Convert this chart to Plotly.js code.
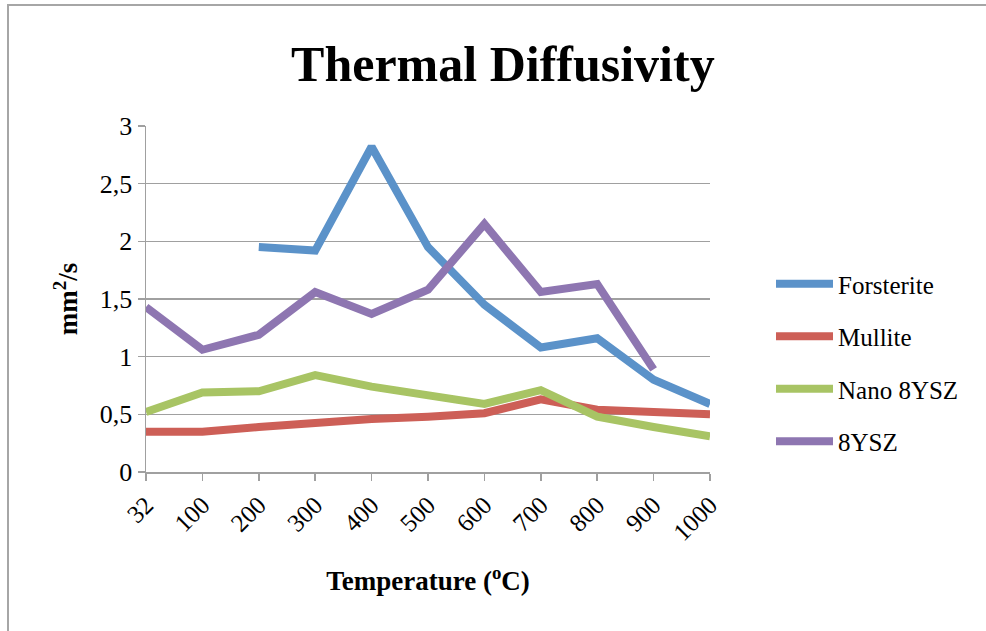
<!DOCTYPE html>
<html>
<head>
<meta charset="utf-8">
<script src="https://cdn.plot.ly/plotly-3.0.1.min.js"></script>
<style>
html,body{margin:0;padding:0;background:#fff;}
#wrap{position:relative;width:986px;height:631px;}
#chart{position:absolute;left:0;top:0;width:986px;height:631px;}
#frame{position:absolute;left:7px;top:4px;width:990px;height:640px;border-left:2px solid #a6a6a6;border-top:2px solid #a6a6a6;pointer-events:none;}
</style>
</head>
<body>
<div id="wrap"><div id="chart"></div><div id="frame"></div></div>
<script>
const categories = ['32','100','200','300','400','500','600','700','800','900','1000'];
const forsterite = [null, null, 1.95, 1.92, 2.82, 1.95, 1.45, 1.08, 1.16, 0.80, 0.59];
const mullite    = [0.35, 0.35, 0.39, 0.43, 0.46, 0.48, 0.51, 0.63, 0.54, 0.52, 0.50];
const nano8ysz   = [0.52, 0.69, 0.70, 0.84, 0.74, 0.66, 0.59, 0.71, 0.48, 0.39, 0.31];
const ysz8       = [1.43, 1.06, 1.19, 1.56, 1.37, 1.58, 2.15, 1.56, 1.63, 0.89, null];
const seriesNames = ['Forsterite', 'Mullite', 'Nano 8YSZ', '8YSZ'];
const colors = ['#5B92C9', '#CD5F57', '#A8C464', '#8E76B1'];
const yTicks = [0, 0.5, 1, 1.5, 2, 2.5, 3];

const font = 'Liberation Serif, DejaVu Serif, serif';
const data = [forsterite, mullite, nano8ysz, ysz8].map((vals, i) => ({
  type: 'scatter', mode: 'lines', x: categories, y: vals, name: seriesNames[i],
  legendgroup: 'g' + i,
  line: {color: colors[i], width: 8}, connectgaps: false, hoverinfo: 'skip'
}));

const layout = {
  width: 986, height: 631,
  margin: {l: 146, r: 276, t: 126, b: 159},
  paper_bgcolor: '#ffffff', plot_bgcolor: '#ffffff',
  separators: ', ',
  font: {family: font, size: 26, color: '#000'},
  title: {text: '<b>Thermal Diffusivity</b>', font: {family: font, size: 50, color: '#000'},
          xref: 'container', yref: 'container', x: 0.51, y: 1 - 63/631, xanchor: 'center', yanchor: 'middle'},
  xaxis: {
    type: 'category', categoryorder: 'array', categoryarray: categories,
    range: [0, 10], showgrid: false, zeroline: false,
    showline: true, linecolor: '#a0a0a0', linewidth: 1.5,
    ticks: 'outside', ticklen: 7, tickcolor: '#a0a0a0', tickwidth: 1.5,
    tickangle: -45, tickfont: {family: font, size: 25, color: '#000'},
    title: {text: '<b>Temperature (<sup>o</sup>C)</b>', font: {family: font, size: 27, color: '#000'}, standoff: 26},
    fixedrange: true
  },
  yaxis: {
    range: [0, 3], tickvals: yTicks, showgrid: true, gridcolor: '#a0a0a0', gridwidth: 1.5,
    zeroline: false, showline: true, linecolor: '#a0a0a0', linewidth: 1.5,
    ticks: 'outside', ticklen: 7, tickcolor: '#a0a0a0', tickwidth: 1.5,
    tickfont: {family: font, size: 26, color: '#000'},
    title: {text: '<b>mm<sup>2</sup>/s</b>', font: {family: font, size: 27, color: '#000'}, standoff: 14},
    fixedrange: true
  },
  showlegend: true,
  legend: {x: 771/986, xref: 'container', y: 1 - 261/631, yref: 'container', xanchor: 'left', yanchor: 'top',
           font: {family: font, size: 25, color: '#000'}, itemwidth: 57, tracegroupgap: 17,
           bgcolor: 'rgba(0,0,0,0)', traceorder: 'grouped'}
};

Plotly.newPlot('chart', data, layout, {displayModeBar: false, staticPlot: true});
</script>
</body>
</html>
